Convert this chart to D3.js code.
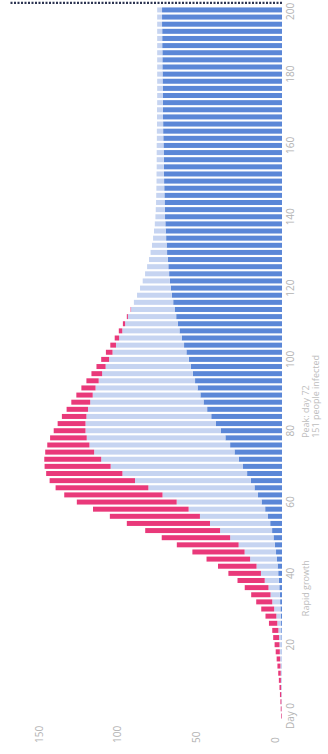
<!DOCTYPE html>
<html>
<head>
<meta charset="utf-8">
<script src="https://cdn.jsdelivr.net/npm/d3@7"></script>
<style>
  html, body { margin: 0; padding: 0; background: #fff; }
  svg { display: block; }
  text { font-family: "Open Sans", "Noto Sans", sans-serif; }
</style>
</head>
<body>
<svg id="chart" width="328" height="754"></svg>
<script>
// Outbreak simulation, one bar every second day
const days = d3.range(0, 200, 2);

// People recovered (cumulative)
const recovered = [
  0, 0, 0, 0, 0.1, 0.1, 0.1, 0.2, 0.2, 0.3,
  0.3, 0.4, 0.5, 0.6, 0.8, 1.0, 1.2, 1.4, 1.7, 2.0,
  2.4, 2.8, 3.2, 3.8, 4.6, 5.4, 6.3, 7.5, 8.9, 10.7,
  13.0, 15.3, 17.5, 19.8, 22.2, 24.8, 27.5, 30.2, 33.0, 36.0,
  39.0, 42.0, 45.0, 47.6, 49.9, 51.9, 53.7, 55.3, 56.7, 58.0,
  59.3, 60.8, 62.3, 63.8, 65.2, 66.3, 67.3, 68.3, 69.2, 70.0,
  70.7, 71.3, 71.8, 72.3, 72.7, 73.1, 73.4, 73.7, 74.0, 74.2,
  74.4, 74.6, 74.7, 74.8, 74.9, 75.0, 75.1, 75.1, 75.2, 75.3,
  75.4, 75.5, 75.6, 75.6, 75.7, 75.8, 75.8, 75.9, 75.9, 76.0,
  76.0, 76.1, 76.1, 76.1, 76.2, 76.2, 76.2, 76.3, 76.3, 76.3
];

// People currently sick
const active = [
  0.2, 0.3, 0.4, 0.5, 0.5, 0.6, 0.7, 0.8, 1.0, 1.1,
  1.3, 1.5, 1.8, 2.4, 2.8, 4.0, 5.0, 5.9, 6.9, 9.0,
  11.0, 13.4, 17.1, 20.0, 23.0, 27.6, 33.1, 38.3, 43.3, 48.7,
  54.0, 60.7, 67.5, 73.7, 79.3, 84.2, 87.5, 89.3, 89.5, 88.2,
  86.0, 83.0, 79.4, 75.8, 72.1, 68.5, 64.9, 61.3, 57.7, 54.2,
  50.7, 47.0, 43.3, 39.8, 36.4, 33.5, 30.7, 27.7, 25.0, 22.2,
  19.6, 17.3, 15.3, 13.5, 11.9, 10.5, 9.3, 8.3, 7.4, 6.7,
  6.1, 5.7, 5.4, 5.2, 5.0, 4.8, 4.7, 4.6, 4.5, 4.4,
  4.3, 4.1, 4.0, 3.9, 3.8, 3.7, 3.6, 3.5, 3.5, 3.4,
  3.4, 3.3, 3.3, 3.3, 3.2, 3.2, 3.2, 3.1, 3.1, 3.1
];

// Newly infected
const newCases = [
  0.4, 0.5, 0.6, 0.8, 1.0, 1.3, 1.6, 1.9, 2.2, 2.6,
  3.1, 3.7, 3.9, 5.3, 6.9, 8.2, 10.2, 12.3, 15.1, 17.3,
  20.7, 24.5, 27.7, 33.2, 39.3, 43.5, 47.6, 52.9, 57.3, 60.8,
  63.5, 62.5, 59.0, 54.3, 48.5, 42.0, 36.2, 31.1, 26.8, 23.3,
  20.2, 17.7, 15.6, 13.6, 12.0, 10.4, 9.0, 7.8, 6.8, 5.8,
  5.0, 4.2, 3.6, 2.8, 2.2, 1.4, 0.7, 0.3, 0, 0,
  0, 0, 0, 0, 0, 0, 0, 0, 0, 0,
  0, 0, 0, 0, 0, 0, 0, 0, 0, 0,
  0, 0, 0, 0, 0, 0, 0, 0, 0, 0,
  0, 0, 0, 0, 0, 0, 0, 0, 0, 0
];

const dayTicks = [0, 20, 40, 60, 80, 100, 120, 140, 160, 180, 200];
const dayTickLabels = ["Day 0", "20", "40", "60", "80", "100", "120", "140", "160", "180", "200"];
const valueTicks = [0, 50, 100, 150];
const endDay = 200;

const notes = [
  { day: 78, lines: ["Peak: day 72", "151 people infected"] },
  { day: 28, lines: ["Rapid growth"] }
];

const colors = { recovered: "#5b87d7", active: "#c6d4f1", newCases: "#e9397a" };

// The chart is laid out on its side: time runs bottom-to-top
const W = 754, H = 328;
const svg = d3.select("#chart");
const g = svg.append("g").attr("transform", `translate(0,${W}) rotate(-90)`);

const x = d3.scaleLinear().domain([0, 200]).range([38, 751.2]);
const y = d3.scaleLinear().domain([0, 173]).range([282, 10]);

const rows = days.map((d, i) => ({
  day: d, recovered: recovered[i], active: active[i], newCases: newCases[i]
}));
const keys = ["recovered", "active", "newCases"];
const series = d3.stack().keys(keys)(rows);

const bw = (x(2) - x(0)) * 0.7;

g.selectAll("g.layer")
  .data(series)
  .join("g")
  .attr("class", "layer")
  .attr("fill", s => colors[s.key])
  .selectAll("rect")
  .data(s => s.filter(d => d[1] - d[0] > 0))
  .join("rect")
  .attr("x", d => x(d.data.day) - bw / 2)
  .attr("width", bw)
  .attr("y", d => y(d[1]))
  .attr("height", d => y(d[0]) - y(d[1]));

// Dotted marker at the end of the simulated period
g.append("line")
  .attr("x1", x(endDay)).attr("x2", x(endDay))
  .attr("y1", y(0)).attr("y2", y(173))
  .attr("stroke", "#2c3452")
  .attr("stroke-width", 2.2)
  .attr("stroke-dasharray", "2 1.5");

// Day labels; the last one is tucked in so it stays inside the frame
const lastTick = dayTicks[dayTicks.length - 1];
g.append("g")
  .selectAll("text")
  .data(dayTicks)
  .join("text")
  .attr("x", d => d === lastTick ? Math.min(x(d), W - 1) : x(d))
  .attr("y", 293.5)
  .attr("text-anchor", d => d === lastTick ? "end" : "middle")
  .attr("font-size", 10)
  .attr("fill", "#b3b3b3")
  .text((d, i) => dayTickLabels[i]);

// Value labels, sitting just above their level
g.append("g")
  .selectAll("text")
  .data(valueTicks)
  .join("text")
  .attr("x", 11)
  .attr("y", d => y(d) - 3.4)
  .attr("text-anchor", "start")
  .attr("font-size", 10)
  .attr("fill", "#b3b3b3")
  .text(d => d);

// Notes under the time axis
notes.forEach(n => {
  const t = g.append("text")
    .attr("x", x(n.day))
    .attr("y", 308.5)
    .attr("font-size", 9)
    .attr("fill", "#bdbdbd");
  n.lines.forEach((line, i) => {
    t.append("tspan").attr("x", x(n.day)).attr("dy", i === 0 ? 0 : 10).text(line);
  });
});
</script>
</body>
</html>
